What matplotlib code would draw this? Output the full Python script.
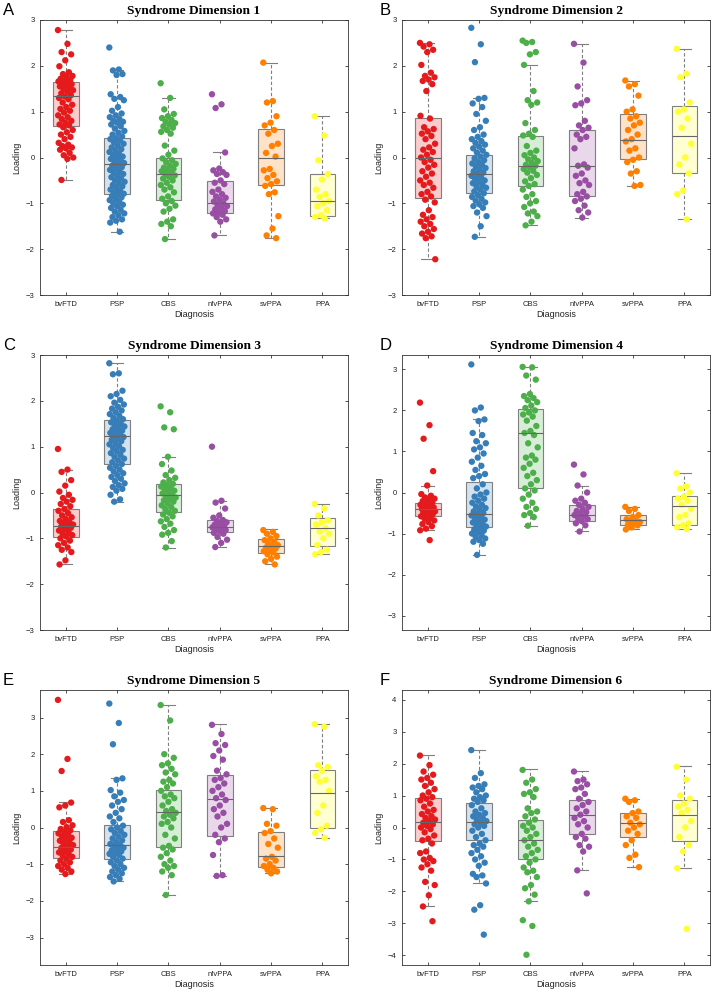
import numpy as np
import matplotlib.pyplot as plt
from matplotlib.colors import to_rgba

groups = ["bvFTD", "PSP", "CBS", "nfvPPA", "svPPA", "PPA"]
colors = ["#e41a1c", "#377eb8", "#4daf4a", "#984ea3", "#ff7f00", "#ffff33"]

# loadings per diagnosis group
dim1 = [
    [2.78, 2.48, 2.30, 2.25, 2.12, 1.99, 1.86, 1.82, 1.78, 1.75, 1.72, 1.70, 1.68, 1.66, 1.64, 1.62, 1.60, 1.58,
     1.55, 1.52, 1.50, 1.47, 1.44, 1.40, 1.36, 1.33, 1.30, 1.27, 1.20, 1.15, 1.10, 1.06, 1.02, 0.98, 0.92, 0.88,
     0.84, 0.80, 0.76, 0.72, 0.70, 0.66, 0.60, 0.55, 0.50, 0.45, 0.40, 0.32, 0.28, 0.25, 0.22, 0.20, 0.17, 0.10,
     0.05, 0.00, -0.03, -0.49],
    [2.40, 1.92, 1.90, 1.82, 1.80, 1.38, 1.32, 1.28, 1.25, 1.10, 1.02, 0.96, 0.92, 0.88, 0.84, 0.80, 0.78, 0.76,
     0.72, 0.68, 0.63, 0.58, 0.54, 0.50, 0.46, 0.42, 0.40, 0.37, 0.33, 0.30, 0.26, 0.22, 0.18, 0.15, 0.12, 0.08,
     0.05, 0.02, 0.00, -0.03, -0.06, -0.09, -0.12, -0.15, -0.18, -0.21, -0.24, -0.27, -0.30, -0.33, -0.36, -0.40,
     -0.43, -0.46, -0.50, -0.53, -0.56, -0.60, -0.63, -0.66, -0.70, -0.73, -0.76, -0.79, -0.81, -0.84, -0.87,
     -0.90, -0.93, -0.96, -1.00, -1.03, -1.06, -1.10, -1.14, -1.18, -1.22, -1.26, -1.30, -1.35, -1.38, -1.42, -1.62],
    [1.62, 1.30, 1.05, 0.95, 0.90, 0.86, 0.82, 0.78, 0.75, 0.72, 0.68, 0.65, 0.60, 0.56, 0.52, 0.26, 0.15, 0.06,
     -0.02, -0.06, -0.10, -0.14, -0.18, -0.22, -0.25, -0.28, -0.30, -0.33, -0.36, -0.39, -0.42, -0.46, -0.50,
     -0.55, -0.60, -0.65, -0.70, -0.76, -0.85, -0.90, -0.95, -1.00, -1.05, -1.12, -1.18, -1.35, -1.40, -1.45,
     -1.50, -1.78],
    [1.38, 1.16, 1.08, 0.11, -0.24, -0.28, -0.32, -0.36, -0.38, -0.50, -0.55, -0.58, -0.70, -0.75, -0.80, -0.85,
     -0.88, -0.92, -0.96, -1.00, -1.03, -1.06, -1.10, -1.13, -1.17, -1.20, -1.22, -1.25, -1.30, -1.35, -1.40, -1.70],
    [2.07, 1.23, 1.20, 0.90, 0.76, 0.70, 0.60, 0.52, 0.30, 0.25, 0.10, 0.02, -0.25, -0.28, -0.38, -0.45, -0.52,
     -0.58, -0.62, -0.76, -0.80, -1.28, -1.55, -1.70, -1.76],
    [0.90, 0.48, -0.06, -0.36, -0.48, -0.70, -0.80, -0.86, -0.95, -1.00, -1.06, -1.15, -1.26, -1.30, -1.33],
]
dim2 = [
    [2.50, 2.47, 2.42, 2.35, 2.30, 2.02, 1.85, 1.78, 1.75, 1.70, 1.67, 1.60, 1.45, 0.91, 0.85, 0.66, 0.62, 0.57,
     0.52, 0.47, 0.40, 0.30, 0.22, 0.17, 0.12, 0.06, 0.00, -0.05, -0.10, -0.16, -0.22, -0.30, -0.35, -0.42, -0.50,
     -0.55, -0.60, -0.66, -0.75, -0.80, -0.85, -0.92, -0.98, -1.15, -1.25, -1.30, -1.35, -1.40, -1.45, -1.50,
     -1.56, -1.62, -1.66, -1.72, -1.76, -2.22],
    [2.83, 2.47, 2.08, 1.30, 1.28, 1.18, 1.10, 0.95, 0.80, 0.66, 0.60, 0.50, 0.45, 0.40, 0.36, 0.32, 0.28, 0.24,
     0.20, 0.15, 0.11, 0.06, 0.02, -0.02, -0.06, -0.10, -0.13, -0.16, -0.20, -0.23, -0.26, -0.30, -0.33, -0.36,
     -0.40, -0.43, -0.46, -0.50, -0.53, -0.56, -0.60, -0.63, -0.66, -0.70, -0.74, -0.78, -0.82, -0.86, -0.90,
     -0.94, -0.98, -1.02, -1.06, -1.10, -1.20, -1.28, -1.50, -1.73],
    [2.55, 2.52, 2.50, 2.30, 2.25, 2.02, 1.45, 1.25, 1.20, 1.15, 0.75, 0.60, 0.52, 0.48, 0.45, 0.25, 0.15, 0.10,
     0.05, 0.00, -0.04, -0.08, -0.12, -0.16, -0.18, -0.21, -0.25, -0.29, -0.33, -0.38, -0.45, -0.52, -0.58, -0.62,
     -0.70, -0.80, -0.86, -0.95, -1.00, -1.08, -1.18, -1.22, -1.28, -1.40, -1.48],
    [2.48, 2.07, 1.55, 1.25, 1.18, 1.14, 0.80, 0.70, 0.65, 0.60, 0.50, 0.45, 0.40, 0.20, -0.15, -0.18, -0.22,
     -0.35, -0.40, -0.50, -0.56, -0.60, -0.75, -0.80, -0.85, -0.90, -0.95, -1.05, -1.15, -1.20, -1.31],
    [1.68, 1.60, 1.55, 1.35, 1.05, 1.00, 0.90, 0.85, 0.76, 0.70, 0.60, 0.50, 0.40, 0.35, 0.20, 0.15, 0.00, -0.05,
     -0.10, -0.30, -0.35, -0.60, -0.62],
    [2.37, 1.83, 1.75, 1.20, 1.05, 1.00, 0.85, 0.65, 0.30, 0.00, -0.15, -0.35, -0.72, -0.80, -1.35],
]
dim3 = [
    [0.95, 0.50, 0.45, 0.27, 0.15, 0.02, -0.05, -0.12, -0.16, -0.20, -0.25, -0.30, -0.36, -0.40, -0.45, -0.50,
     -0.54, -0.58, -0.62, -0.65, -0.68, -0.70, -0.72, -0.74, -0.77, -0.80, -0.83, -0.86, -0.90, -0.93, -0.96,
     -1.00, -1.05, -1.10, -1.15, -1.20, -1.25, -1.30, -1.48, -1.57],
    [2.82, 2.60, 2.58, 2.22, 2.15, 2.10, 2.02, 1.96, 1.92, 1.87, 1.83, 1.79, 1.75, 1.71, 1.67, 1.63, 1.60, 1.56,
     1.53, 1.50, 1.47, 1.44, 1.41, 1.38, 1.35, 1.32, 1.30, 1.27, 1.24, 1.21, 1.18, 1.15, 1.12, 1.08, 1.05, 1.01,
     0.97, 0.93, 0.90, 0.86, 0.82, 0.78, 0.74, 0.70, 0.66, 0.62, 0.58, 0.54, 0.50, 0.46, 0.42, 0.38, 0.34, 0.30,
     0.25, 0.20, 0.16, 0.12, 0.08, 0.04, -0.05, -0.15, -0.20],
    [1.88, 1.75, 1.42, 1.38, 0.78, 0.62, 0.48, 0.38, 0.32, 0.27, 0.22, 0.19, 0.16, 0.13, 0.10, 0.07, 0.04, 0.01,
     -0.02, -0.05, -0.08, -0.11, -0.14, -0.17, -0.20, -0.24, -0.28, -0.32, -0.36, -0.40, -0.44, -0.48, -0.52,
     -0.58, -0.63, -0.68, -0.75, -0.82, -0.88, -0.92, -1.06, -1.20],
    [1.00, -0.18, -0.22, -0.35, -0.50, -0.55, -0.60, -0.62, -0.65, -0.68, -0.70, -0.72, -0.74, -0.76, -0.78,
     -0.80, -0.82, -0.85, -0.88, -0.90, -0.97, -1.03, -1.10, -1.19],
    [-0.82, -0.86, -0.90, -0.95, -1.00, -1.04, -1.08, -1.12, -1.15, -1.18, -1.20, -1.22, -1.25, -1.28, -1.31,
     -1.35, -1.40, -1.45, -1.50, -1.57],
    [-0.25, -0.35, -0.50, -0.60, -0.65, -0.70, -0.78, -0.85, -0.90, -1.00, -1.15, -1.25, -1.30, -1.35],
]
dim4 = [
    [2.19, 1.64, 1.31, 0.52, 0.17, -0.04, -0.08, -0.12, -0.15, -0.18, -0.21, -0.24, -0.27, -0.30, -0.32, -0.34,
     -0.36, -0.38, -0.40, -0.42, -0.44, -0.46, -0.48, -0.50, -0.52, -0.55, -0.58, -0.61, -0.64, -0.68, -0.72,
     -0.77, -0.82, -0.88, -0.92, -1.16],
    [3.12, 2.07, 2.00, 1.78, 1.74, 1.45, 1.40, 1.25, 1.20, 1.10, 1.05, 0.95, 0.85, 0.75, 0.65, 0.55, 0.45, 0.40,
     0.35, 0.20, 0.10, 0.00, -0.05, -0.10, -0.15, -0.20, -0.25, -0.30, -0.34, -0.38, -0.42, -0.46, -0.50, -0.53,
     -0.56, -0.60, -0.63, -0.66, -0.70, -0.73, -0.76, -0.80, -0.83, -0.86, -0.90, -0.93, -0.96, -1.00, -1.04,
     -1.08, -1.12, -1.16, -1.20, -1.25, -1.52],
    [3.06, 3.05, 2.85, 2.75, 2.40, 2.35, 2.30, 2.25, 2.20, 2.12, 2.06, 2.00, 1.95, 1.90, 1.85, 1.75, 1.62, 1.50,
     1.45, 1.40, 1.20, 1.10, 0.90, 0.85, 0.80, 0.70, 0.60, 0.48, 0.40, 0.30, 0.20, 0.10, 0.05, -0.05, -0.15,
     -0.25, -0.35, -0.40, -0.50, -0.55, -0.60, -0.81],
    [0.68, 0.44, 0.17, 0.00, -0.15, -0.20, -0.25, -0.30, -0.35, -0.40, -0.45, -0.48, -0.52, -0.55, -0.58, -0.62,
     -0.65, -0.70, -0.75, -0.80, -0.95],
    [-0.35, -0.40, -0.45, -0.55, -0.60, -0.65, -0.68, -0.70, -0.72, -0.75, -0.78, -0.80, -0.85, -0.90],
    [0.47, 0.15, 0.10, 0.00, -0.10, -0.15, -0.20, -0.30, -0.40, -0.55, -0.60, -0.75, -0.80, -0.85, -0.89],
]
dim5 = [
    [3.48, 1.87, 1.54, 0.68, 0.60, 0.55, 0.20, 0.15, 0.06, 0.01, -0.04, -0.08, -0.12, -0.16, -0.20, -0.24, -0.28,
     -0.32, -0.36, -0.40, -0.44, -0.48, -0.52, -0.56, -0.60, -0.64, -0.68, -0.72, -0.76, -0.80, -0.85, -0.90,
     -0.95, -1.00, -1.05, -1.10, -1.15, -1.20, -1.27],
    [3.38, 2.85, 2.27, 1.34, 1.30, 1.02, 0.95, 0.85, 0.75, 0.70, 0.60, 0.50, 0.40, 0.30, 0.25, 0.15, 0.05, 0.00,
     -0.05, -0.10, -0.15, -0.20, -0.25, -0.30, -0.35, -0.40, -0.45, -0.48, -0.50, -0.55, -0.60, -0.62, -0.65,
     -0.70, -0.72, -0.75, -0.80, -0.85, -0.90, -0.95, -1.00, -1.05, -1.10, -1.15, -1.20, -1.25, -1.30, -1.35,
     -1.40, -1.47],
    [3.34, 2.92, 2.00, 1.90, 1.75, 1.70, 1.60, 1.50, 1.45, 1.30, 1.25, 1.20, 1.10, 1.00, 0.90, 0.85, 0.80, 0.70,
     0.60, 0.50, 0.45, 0.40, 0.35, 0.30, 0.25, 0.15, 0.10, 0.00, -0.20, -0.30, -0.50, -0.55, -0.60, -0.70, -0.80,
     -0.90, -1.00, -1.05, -1.10, -1.20, -1.30, -1.84],
    [2.80, 2.55, 2.30, 2.25, 2.10, 1.95, 1.85, 1.55, 1.45, 1.35, 1.30, 1.20, 1.10, 1.00, 0.90, 0.80, 0.75, 0.60,
     0.50, 0.40, 0.30, 0.10, 0.00, -0.20, -0.30, -0.40, -0.75, -1.30, -1.32],
    [0.53, 0.50, 0.10, 0.05, -0.10, -0.15, -0.30, -0.45, -0.55, -0.80, -0.85, -0.90, -1.00, -1.05, -1.10, -1.15,
     -1.20, -1.25],
    [2.82, 2.75, 1.70, 1.65, 1.55, 1.40, 1.30, 1.25, 1.00, 0.60, 0.40, 0.05, -0.05, -0.15, -0.28],
]
dim6 = [
    [2.25, 1.95, 1.75, 1.65, 1.55, 1.50, 1.40, 1.30, 1.20, 1.10, 1.00, 0.95, 0.90, 0.85, 0.75, 0.65, 0.55, 0.50,
     0.42, 0.36, 0.30, 0.25, 0.20, 0.15, 0.10, 0.05, 0.00, -0.05, -0.15, -0.25, -0.35, -0.40, -0.50, -0.75, -0.80,
     -0.95, -1.00, -1.05, -1.15, -1.25, -1.35, -1.70, -1.80, -2.12, -2.47, -2.93],
    [2.42, 1.70, 1.55, 1.35, 1.30, 1.25, 1.20, 1.10, 1.00, 0.95, 0.90, 0.85, 0.80, 0.70, 0.60, 0.50, 0.45, 0.40,
     0.35, 0.30, 0.25, 0.20, 0.15, 0.10, 0.05, 0.00, -0.10, -0.20, -0.30, -0.40, -0.50, -0.55, -0.60, -0.70, -0.80,
     -0.90, -1.00, -1.10, -1.20, -1.45, -1.50, -1.55, -1.75, -2.43, -2.57, -3.35],
    [1.80, 1.50, 1.40, 1.20, 1.10, 1.05, 0.95, 0.60, 0.50, 0.45, 0.35, 0.25, 0.15, 0.05, 0.00, -0.10, -0.20, -0.30,
     -0.40, -0.50, -0.60, -0.70, -0.80, -0.90, -1.00, -1.10, -1.25, -1.35, -1.40, -1.55, -1.80, -1.90, -2.10,
     -2.31, -2.90, -3.08, -3.98],
    [1.75, 1.50, 1.45, 1.35, 1.25, 1.20, 1.05, 0.90, 0.80, 0.70, 0.60, 0.50, 0.40, 0.30, 0.20, 0.10, 0.00, -0.20,
     -0.30, -0.35, -0.55, -0.60, -0.75, -1.34, -2.06],
    [0.90, 0.85, 0.80, 0.50, 0.45, 0.35, 0.30, 0.15, 0.10, 0.00, -0.10, -0.20, -0.40, -0.55, -0.85, -0.95, -1.24],
    [1.90, 1.50, 1.00, 0.90, 0.75, 0.65, 0.55, 0.45, 0.20, 0.00, -0.30, -0.55, -0.75, -1.27, -3.17],
]

# box stats per group: (lower whisker, q1, median, q3, upper whisker)
box1 = [(-0.49, 0.69, 1.34, 1.65, 2.78), (-1.62, -0.80, -0.14, 0.42, 1.90), (-1.78, -0.93, -0.35, -0.01, 1.30),
        (-1.70, -1.20, -1.00, -0.51, 0.11), (-1.76, -0.60, 0.00, 0.62, 2.07), (-1.33, -1.27, -0.94, -0.37, 0.90)]
box2 = [(-2.22, -0.88, -0.02, 0.87, 2.50), (-1.73, -0.78, -0.35, 0.05, 1.30), (-1.48, -0.62, -0.18, 0.48, 2.02),
        (-1.31, -0.84, -0.18, 0.61, 2.48), (-0.62, -0.03, 0.38, 0.94, 1.68), (-1.35, -0.33, 0.47, 1.13, 2.37)]
box3 = [(-1.57, -0.96, -0.72, -0.35, 0.50), (-0.20, 0.63, 1.24, 1.58, 2.82), (-1.20, -0.42, -0.06, 0.19, 0.78),
        (-1.19, -0.87, -0.76, -0.60, -0.18), (-1.57, -1.31, -1.17, -1.02, -0.80), (-1.35, -1.17, -0.77, -0.56, -0.25)]
box4 = [(-0.92, -0.58, -0.40, -0.26, 0.17), (-1.52, -0.83, -0.52, 0.25, 1.78), (-0.81, 0.10, 1.44, 2.03, 3.06),
        (-0.95, -0.70, -0.56, -0.31, 0.17), (-0.90, -0.78, -0.67, -0.56, -0.35), (-0.89, -0.78, -0.34, -0.08, 0.47)]
box5 = [(-1.27, -0.84, -0.54, -0.09, 0.70), (-1.47, -0.86, -0.49, 0.07, 1.34), (-1.84, -0.52, 0.41, 1.02, 3.34),
        (-1.32, -0.22, 0.77, 1.43, 2.81), (-1.25, -1.08, -0.78, -0.13, 0.53), (-0.28, -0.02, 0.94, 1.57, 2.82)]
box6 = [(-2.47, -0.41, 0.17, 0.92, 2.28), (-1.74, -0.38, 0.17, 0.77, 2.43), (-2.31, -0.98, -0.38, 0.25, 1.83),
        (-1.34, -0.20, 0.39, 0.85, 1.76), (-1.24, -0.30, 0.13, 0.45, 0.90), (-1.27, -0.41, 0.39, 0.87, 1.91)]

panels = [dim1, dim2, dim3, dim4, dim5, dim6]
boxes = [box1, box2, box3, box4, box5, box6]
letters = ["A", "B", "C", "D", "E", "F"]
ylims = [3, 3, 3, 3.35, 3.75, 4.3]
yticks = [range(-3, 4), range(-3, 4), range(-3, 4), range(-3, 4), range(-3, 4), range(-4, 5)]

W, H = 714, 994
fig = plt.figure(figsize=(W / 100, H / 100), dpi=100)
col_x = [40, 402]
row_top = [20, 355, 690]
ax_w, ax_h = 308, 275
grey = "#7f7f7f"
axc = "#333333"

for k in range(6):
    r, c = divmod(k, 2)
    left = col_x[c] / W
    bottom = 1 - (row_top[r] + ax_h) / H
    ax = fig.add_axes([left, bottom, ax_w / W, ax_h / H])

    stats = [dict(whislo=b[0], q1=b[1], med=b[2], q3=b[3], whishi=b[4]) for b in boxes[k]]
    art = ax.bxp(stats, positions=range(1, 7), widths=0.5, patch_artist=True, showfliers=False,
                 boxprops=dict(edgecolor=grey, linewidth=0.8),
                 whiskerprops=dict(color=grey, linestyle=(0, (3, 2)), linewidth=0.8),
                 capprops=dict(color=grey, linewidth=0.8),
                 medianprops=dict(color="#666666", linewidth=0.8))
    for patch, col in zip(art["boxes"], colors):
        patch.set_facecolor(to_rgba(col, 0.22))
        patch.set_zorder(1)
    for m in art["medians"]:
        m.set_zorder(3)

    for g, (vals, col) in enumerate(zip(panels[k], colors)):
        n = len(vals)
        jit = ((np.arange(n) * 0.6180339887) % 1.0 - 0.5) * 0.3
        ax.scatter(g + 1 + jit, vals, s=21, color=col, edgecolors="none", zorder=2)

    ax.set_xlim(0.5, 6.5)
    ax.set_ylim(-ylims[k], ylims[k])
    ax.set_yticks(list(yticks[k]))
    ax.set_xticks(range(1, 7))
    ax.set_xticklabels(groups, family="Liberation Sans")
    for lab in ax.get_yticklabels():
        lab.set_family("Liberation Sans")
    ax.tick_params(direction="in", top=True, right=True, length=2.5, width=0.6,
                   labelsize=5.5, color=axc, labelcolor="#222222", pad=4)
    for sp in ax.spines.values():
        sp.set_color(axc)
        sp.set_linewidth(0.6)
    ax.set_ylabel("Loading", fontsize=6.5, family="Liberation Sans", labelpad=3, color="#222222")
    ax.set_xlabel("Diagnosis", fontsize=6.5, family="Liberation Sans", labelpad=2, color="#222222")
    ax.set_title("Syndrome Dimension %d" % (k + 1), fontsize=9.6, fontweight="bold",
                 family="Liberation Serif", pad=4)

    lx = 3 if c == 0 else 380
    fig.text(lx / W, 1 - (row_top[r] - 5) / H, letters[k], fontsize=12,
             family="Liberation Sans", va="baseline", ha="left")

fig.savefig("out.png", dpi=100)
